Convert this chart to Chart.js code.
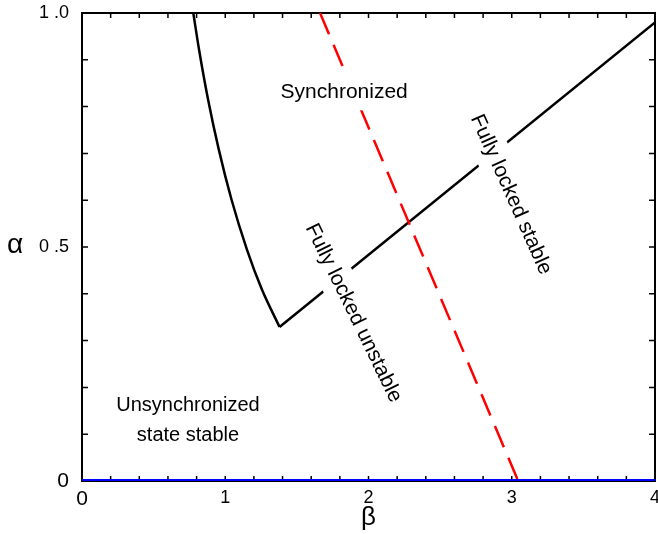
<!DOCTYPE html>
<html>
<head>
<meta charset="utf-8">
<script src="https://cdn.jsdelivr.net/npm/chart.js@4"></script>
<style>
  html, body { margin: 0; padding: 0; background: #fff; }
</style>
</head>
<body>
<canvas id="phaseChart" width="658" height="534"></canvas>
<script>
// curved lower boundary of the synchronized region
const leftBeta  = [0.777, 0.817, 0.880, 0.955, 1.044, 1.152, 1.256, 1.379];
const leftAlpha = [1.0,   0.922, 0.815, 0.708, 0.601, 0.494, 0.409, 0.329];
// fully locked branch (straight)
const lockBeta  = [1.379, 4.0];
const lockAlpha = [0.329, 0.98];
// synchronization threshold (dashed)
const syncBeta  = [1.662, 3.045];
const syncAlpha = [1.0, 0.0];
// alpha = 0 line
const zeroBeta  = [0, 4];
const zeroAlpha = [0, 0];

const xTickValues = [0, 1, 2, 3, 4];
const xTickLabels = ['0', '1', '2', '3', '4'];
const yTickValues = [0, 0.5, 1];
const yTickLabels = ['0', '0 .5', '1 .0'];

const FONT = '"Liberation Sans", Arial, Helvetica, sans-serif';

function pts(xs, ys) {
    return xs.map((v, i) => ({ x: v, y: ys[i] }));
}

function labelFor(values, labels, v) {
    const i = values.findIndex(t => Math.abs(t - v) < 1e-6);
    return i >= 0 ? labels[i] : '';
}

// region names, placed in data coordinates; "box" blanks out the lines behind the text
const notes = [
    { lines: ['Synchronized'], x: 1.83, y: 0.830, angle: 0, size: 21, box: true },
    { lines: ['Unsynchronized', 'state stable'], x: 0.74, y: 0.13, angle: 0, size: 20, box: false },
    { lines: ['Fully locked unstable'], x: 1.895, y: 0.359, angle: 64, size: 21, box: true },
    { lines: ['Fully locked stable'], x: 2.995, y: 0.612, angle: 66, size: 21, box: true }
];

const framePlugin = {
    id: 'frame',
    beforeDatasetsDraw(chart) {
        const { ctx, chartArea: a, scales: { x, y } } = chart;
        ctx.save();
        ctx.strokeStyle = '#000';
        ctx.lineWidth = 1.5;
        ctx.beginPath();
        // inward ticks on all four sides
        x.ticks.forEach(t => {
            const px = x.getPixelForValue(t.value);
            ctx.moveTo(px, a.bottom); ctx.lineTo(px, a.bottom - 5);
            ctx.moveTo(px, a.top); ctx.lineTo(px, a.top + 5);
        });
        y.ticks.forEach(t => {
            const py = y.getPixelForValue(t.value);
            ctx.moveTo(a.left, py); ctx.lineTo(a.left + 6, py);
            ctx.moveTo(a.right, py); ctx.lineTo(a.right - 6, py);
        });
        ctx.stroke();
        ctx.lineWidth = 2;
        ctx.strokeRect(a.left, a.top, a.right - a.left, a.bottom - a.top);

        // axis symbols
        ctx.fillStyle = '#000';
        ctx.font = '28px ' + FONT;
        ctx.textAlign = 'center';
        ctx.textBaseline = 'middle';
        ctx.fillText('α', 15, y.getPixelForValue(0.5) - 2);
        ctx.font = '26px ' + FONT;
        ctx.fillText('β', x.getPixelForValue(2), 518);
        ctx.restore();
    },
    afterDatasetsDraw(chart) {
        const { ctx, scales: { x, y } } = chart;
        notes.forEach(n => {
            const lh = n.size * 1.5;
            ctx.save();
            ctx.translate(x.getPixelForValue(n.x), y.getPixelForValue(n.y));
            ctx.rotate(n.angle * Math.PI / 180);
            ctx.font = n.size + 'px ' + FONT;
            ctx.textAlign = 'center';
            ctx.textBaseline = 'middle';
            const w = Math.max(...n.lines.map(s => ctx.measureText(s).width));
            const h = lh * n.lines.length;
            if (n.box) {
                ctx.fillStyle = '#fff';
                ctx.fillRect(-w / 2 - 3, -h / 2 - 2, w + 6, h + 4);
            }
            ctx.fillStyle = '#000';
            n.lines.forEach((s, i) => {
                ctx.fillText(s, 0, -h / 2 + lh * (i + 0.5));
            });
            ctx.restore();
        });
    }
};

new Chart(document.getElementById('phaseChart'), {
    type: 'scatter',
    data: {
        datasets: [
            {
                data: pts(zeroBeta, zeroAlpha),
                showLine: true,
                borderColor: '#0000ff',
                borderWidth: 4,
                pointRadius: 0
            },
            {
                data: pts(syncBeta, syncAlpha),
                showLine: true,
                borderColor: '#ff0000',
                borderWidth: 2.5,
                borderDash: [23, 11.5],
                pointRadius: 0
            },
            {
                data: pts(leftBeta, leftAlpha),
                showLine: true,
                borderColor: '#000',
                borderWidth: 2.5,
                cubicInterpolationMode: 'monotone',
                pointRadius: 0
            },
            {
                data: pts(lockBeta, lockAlpha),
                showLine: true,
                borderColor: '#000',
                borderWidth: 2.5,
                pointRadius: 0
            }
        ]
    },
    options: {
        responsive: false,
        animation: false,
        layout: { padding: { top: 13, right: 3, left: 0, bottom: 0 } },
        plugins: {
            legend: { display: false },
            tooltip: { enabled: false }
        },
        scales: {
            x: {
                type: 'linear',
                min: 0,
                max: 4,
                grid: { display: false, drawTicks: false },
                border: { display: false },
                ticks: {
                    stepSize: 0.2,
                    autoSkip: false,
                    maxRotation: 0,
                    padding: 6,
                    color: '#000',
                    font: c => ({ family: FONT, size: c.tick && c.tick.value === 0 ? 21 : 18 }),
                    callback: v => labelFor(xTickValues, xTickLabels, v)
                },
                afterFit: s => { s.height = 53; s.paddingLeft = 0; s.paddingRight = 0; }
            },
            y: {
                type: 'linear',
                min: 0,
                max: 1,
                grid: { display: false, drawTicks: false },
                border: { display: false },
                ticks: {
                    stepSize: 0.1,
                    autoSkip: false,
                    padding: 13,
                    color: '#000',
                    font: c => ({ family: FONT, size: c.tick && c.tick.value === 0 ? 21 : 18 }),
                    callback: v => labelFor(yTickValues, yTickLabels, v)
                },
                afterFit: s => { s.width = 82; s.paddingTop = 0; s.paddingBottom = 0; }
            }
        }
    },
    plugins: [framePlugin]
});
</script>
</body>
</html>
